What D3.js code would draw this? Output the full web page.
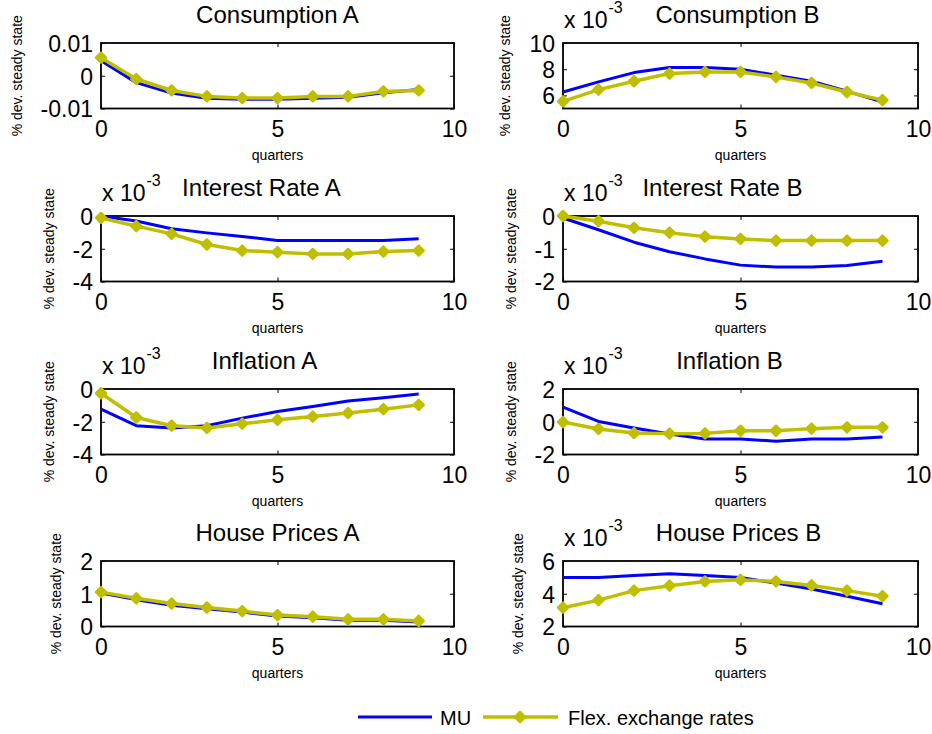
<!DOCTYPE html>
<html><head><meta charset="utf-8">
<script src="https://cdn.jsdelivr.net/npm/d3@7"></script>
<style>
body{margin:0;background:#fff}
text{font-family:"Liberation Sans",Arial,Helvetica,sans-serif;fill:#000}
</style>
</head><body>
<svg id="chart" width="932" height="734"></svg>
<script>
// ---------------- data ----------------
const quarters = [0,1,2,3,4,5,6,7,8,9];
const titles = ["Consumption A","Consumption B","Interest Rate A","Interest Rate B",
                "Inflation A","Inflation B","House Prices A","House Prices B"];
const exponents = [0,-3,-3,-3,-3,-3,0,-3];
const yDomains = [[-0.01,0.01],[5,10],[-4,0],[-2,0],[-4,0],[-2,2],[0,2],[2,6]];
const yTickValues = [[-0.01,0,0.01],[6,8,10],[-4,-2,0],[-2,-1,0],[-4,-2,0],[-2,0,2],[0,1,2],[2,4,6]];
const xDomain = [0,10];
const xTickValues = [0,5,10];
const xLabel = "quarters";
const yLabel = "% dev. steady state";
const seriesNames = ["MU","Flex. exchange rates"];

// values in the displayed units (multiply by 10^exponent for the real value)
const muConsumptionA   = [0.0046,-0.0021,-0.0053,-0.0069,-0.0072,-0.0072,-0.0069,-0.0066,-0.0052,-0.0042];
const flexConsumptionA = [0.0055,-0.0010,-0.0045,-0.0063,-0.0068,-0.0068,-0.0063,-0.0063,-0.0048,-0.0045];
const muConsumptionB   = [6.26,7.03,7.74,8.13,8.13,8.00,7.54,7.08,6.33,5.49];
const flexConsumptionB = [5.54,6.44,7.08,7.67,7.79,7.79,7.41,6.95,6.26,5.64];
const muInterestA      = [0.00,-0.31,-0.78,-1.03,-1.25,-1.50,-1.50,-1.50,-1.50,-1.39];
const flexInterestA    = [-0.12,-0.62,-1.09,-1.74,-2.11,-2.21,-2.32,-2.32,-2.17,-2.11];
const muInterestB      = [-0.06,-0.42,-0.80,-1.09,-1.31,-1.50,-1.56,-1.56,-1.51,-1.38];
const flexInterestB    = [0.00,-0.16,-0.36,-0.51,-0.63,-0.70,-0.75,-0.75,-0.75,-0.75];
const muInflationA     = [-1.23,-2.24,-2.38,-2.24,-1.78,-1.37,-1.07,-0.73,-0.53,-0.30];
const flexInflationA   = [-0.26,-1.74,-2.24,-2.38,-2.12,-1.88,-1.68,-1.47,-1.23,-0.97];
const muInflationB     = [0.89,0.02,-0.38,-0.75,-1.05,-1.05,-1.19,-1.05,-1.05,-0.93];
const flexInflationB   = [-0.02,-0.44,-0.69,-0.73,-0.71,-0.55,-0.55,-0.42,-0.34,-0.34];
const muHouseA         = [1.02,0.82,0.65,0.54,0.44,0.32,0.27,0.19,0.19,0.14];
const flexHouseA       = [1.05,0.86,0.70,0.58,0.47,0.35,0.30,0.22,0.22,0.17];
const muHouseB         = [4.99,4.99,5.12,5.22,5.12,4.99,4.65,4.29,3.85,3.39];
const flexHouseB       = [3.15,3.61,4.19,4.49,4.75,4.85,4.75,4.51,4.19,3.85];

const muSeries   = [muConsumptionA,muConsumptionB,muInterestA,muInterestB,muInflationA,muInflationB,muHouseA,muHouseB];
const flexSeries = [flexConsumptionA,flexConsumptionB,flexInterestA,flexInterestB,flexInflationA,flexInflationB,flexHouseA,flexHouseB];

// ---------------- layout / style ----------------
const colLeft = [101, 563], colRight = [454, 918];
const rowTop = [43, 216, 389, 561], axH = 65.5;
const titleShift = [0,-3,-16,-18,-13,-11,0,-2];
const blue = "#0000ff", olive = "#bfbf00";
const font = "'Liberation Sans',Arial,Helvetica,sans-serif";

const svg = d3.select("#chart");

function diamond(r){ return `M0,${-r}L${r},0L0,${r}L${-r},0Z`; }

titles.forEach((title,i) => {
  const col = i % 2, row = Math.floor(i/2);
  const x0 = colLeft[col], x1 = colRight[col];
  const y0 = rowTop[row], y1 = y0 + axH;
  const x = d3.scaleLinear().domain(xDomain).range([x0,x1]);
  const y = d3.scaleLinear().domain(yDomains[i]).range([y1,y0]);
  const g = svg.append("g");

  // clip
  const cid = "clip"+i;
  svg.append("clipPath").attr("id",cid).append("rect")
     .attr("x",x0-8).attr("y",y0-8).attr("width",x1-x0+16).attr("height",axH+16);

  const fmt = v => v === 0 ? "0" : String(v);

  // bottom axis
  const ax = g.append("g").attr("transform",`translate(0,${y1})`)
    .call(d3.axisBottom(x).tickValues(xTickValues).tickSizeInner(-4).tickSizeOuter(0).tickPadding(10).tickFormat(fmt));
  // top axis ticks (no labels)
  g.append("g").attr("transform",`translate(0,${y0})`)
    .call(d3.axisTop(x).tickValues(xTickValues).tickSizeInner(-4).tickSizeOuter(0).tickFormat(""));
  // left axis
  const ay = g.append("g").attr("transform",`translate(${x0},0)`)
    .call(d3.axisLeft(y).tickValues(yTickValues[i]).tickSizeInner(-4).tickSizeOuter(0).tickPadding(8).tickFormat(fmt));
  // right axis ticks
  g.append("g").attr("transform",`translate(${x1},0)`)
    .call(d3.axisRight(y).tickValues(yTickValues[i]).tickSizeInner(-4).tickSizeOuter(0).tickFormat(""));

  g.selectAll(".domain").remove();
  g.selectAll(".tick line").attr("stroke","#000").attr("stroke-width",1);
  ax.selectAll("text").attr("font-size",23).attr("font-family",font).attr("dy","0.72em").attr("fill","#000");
  ay.selectAll("text").attr("font-size",23).attr("font-family",font).attr("dy","0.36em").attr("fill","#000");
  ax.selectAll("text").attr("y",12);

  // box
  g.append("rect").attr("x",x0).attr("y",y0).attr("width",x1-x0).attr("height",axH)
    .attr("fill","none").attr("stroke","#000").attr("stroke-width",1.8);

  // lines
  const line = d3.line().x((d,k)=>x(quarters[k])).y(d=>y(d));
  const pg = g.append("g").attr("clip-path",`url(#${cid})`);
  pg.append("path").attr("d",line(muSeries[i])).attr("fill","none")
    .attr("stroke",blue).attr("stroke-width",3).attr("stroke-linejoin","round");
  pg.append("path").attr("d",line(flexSeries[i])).attr("fill","none")
    .attr("stroke",olive).attr("stroke-width",3.5).attr("stroke-linejoin","round");
  pg.selectAll("path.mk").data(flexSeries[i]).enter().append("path").attr("class","mk")
    .attr("d",diamond(5)).attr("transform",(d,k)=>`translate(${x(quarters[k])},${y(d)})`)
    .attr("fill",olive).attr("stroke",olive).attr("stroke-width",2.5).attr("stroke-linejoin","round");

  // title
  g.append("text").attr("x",(x0+x1)/2 + titleShift[i]).attr("y",y0-20)
    .attr("text-anchor","middle").attr("font-size",24).text(title);

  // x label
  g.append("text").attr("x",(x0+x1)/2).attr("y",y1+51)
    .attr("text-anchor","middle").attr("font-size",14).text(xLabel);

  // y label positioned beside tick labels
  let minX = x0;
  ay.selectAll("text").each(function(){ const b=this.getBBox(); minX = Math.min(minX, x0 + b.x); });
  g.append("text").attr("transform",`translate(${minX-19},${(y0+y1)/2}) rotate(-90)`)
    .attr("text-anchor","middle").attr("font-size",14).text(yLabel);

  // exponent
  if (exponents[i] !== 0) {
    const t = g.append("text").attr("x",x0+1).attr("y",y0-15).attr("font-size",23);
    t.append("tspan").text("x 10");
    t.append("tspan").attr("dx",1).attr("dy",-15).attr("font-size",16).text(String(exponents[i]));
  }
});

// legend
const lg = svg.append("g");
const ly = 717;
lg.append("line").attr("x1",358).attr("x2",432).attr("y1",ly).attr("y2",ly)
  .attr("stroke",blue).attr("stroke-width",3);
lg.append("text").attr("x",440).attr("y",ly+8).attr("font-size",20).text(seriesNames[0]);
lg.append("line").attr("x1",483).attr("x2",558).attr("y1",ly).attr("y2",ly)
  .attr("stroke",olive).attr("stroke-width",3.5);
lg.append("path").attr("d",diamond(5)).attr("transform",`translate(520,${ly})`)
  .attr("fill",olive).attr("stroke",olive).attr("stroke-width",2.5).attr("stroke-linejoin","round");
lg.append("text").attr("x",568).attr("y",ly+8).attr("font-size",20).text(seriesNames[1]);
</script>
</body></html>
